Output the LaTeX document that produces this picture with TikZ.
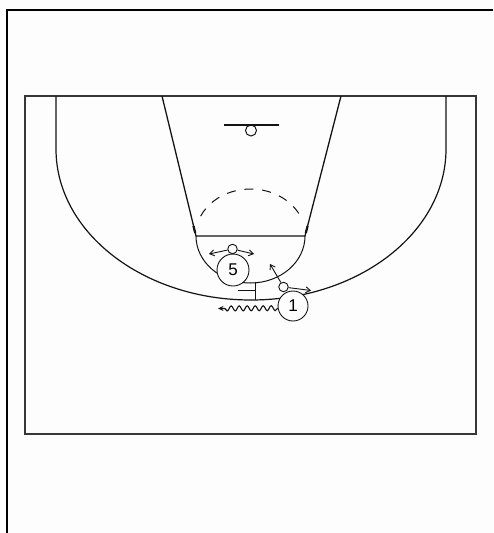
\documentclass[tikz,border=0pt]{standalone}
\usepackage{fontspec}
\setmainfont{Liberation Sans}
\usetikzlibrary{arrows.meta,decorations.pathmorphing}
\definecolor{chalk}{RGB}{253,253,253}
\definecolor{ink}{RGB}{20,20,20}
\tikzset{
  >={Straight Barb[length=4.5pt,width=6pt]},
  frame/.style={draw=black,line width=1.8pt},
  court/.style={draw=ink!85,line width=1.5pt},
  mark/.style={draw=ink,line width=#1},
  mark/.default=1pt,
  player/.style={circle,draw=ink,fill=chalk,line width=0.9pt,minimum size=#1,
    inner sep=0pt,font=\fontsize{17}{17}\selectfont},
  player/.default=31pt,
  defender/.style={circle,draw=ink,fill=chalk,line width=0.9pt,minimum size=9.5pt,inner sep=0pt},
  move/.style={->,draw=ink,line width=0.9pt},
  dribble/.style={-{Stealth[length=5.5pt,width=5pt]},draw=ink,line width=1.1pt,
    decorate,decoration={snake,segment length=8pt,amplitude=2.5pt,post length=5pt}},
}

\begin{document}
\begin{tikzpicture}[x=1pt,y=-1pt]
    \useasboundingbox (0,0) rectangle (493,533);
    \fill[chalk] (0,0) rectangle (493,533);
    \draw[frame] (7,533) -- (7,10) -- (493,10);
    \draw[court] (25,96) rectangle (476,434);
    % three point line
    \draw[mark=1.2pt] (56,96) -- (56,149) arc[start angle=180,end angle=0,x radius=195,y radius=151] -- (446,96);
    % lane and free throw circle
    \draw[mark=1.3pt] (162,96) -- (196,236) -- (305,236) -- (341,96);
    \draw[mark] (196,236) arc[start angle=180,end angle=0,x radius=54.5,y radius=47];
    \draw[mark,dash pattern=on 9pt off 8.8pt] (200.65,216.14) arc[start angle=205,end angle=335,x radius=55,y radius=47];
    \draw[mark=2.2pt] (193.5,226) -- (195.2,233);
    \draw[mark=2.2pt] (307.6,226) -- (305.8,233);
    % basket
    \draw[mark=1.2pt] (224,125) -- (279,125);
    \draw[mark] (251,130.5) circle (5.5);
    % screen
    \coordinate (scr) at (255,290.5);
    \draw[mark] (238,290.5) -- (scr);
    \draw[mark] (scr) ++(0,-9) -- ++(0,18.5);
    % players
    \node[player=32pt] (p5) at (233,270) {5};
    \node[player=30pt] (p1) at (293,306) {1};
    \node[defender] (x5) at (232.5,249) {};
    \node[defender] (x1) at (283.5,287) {};
    \coordinate (x5l) at (209,254);
    \coordinate (x5r) at (254,254);
    \coordinate (x1u) at (270,264);
    \coordinate (x1r) at (311,290.5);
    \coordinate (dr) at (218,308.5);
    \draw[move] (x5) -- (x5l);
    \draw[move] (x5) -- (x5r);
    \draw[move] (x1) -- (x1u);
    \draw[move] (x1) -- (x1r);
    \draw[dribble] (p1.188) -- (dr);
  \end{tikzpicture}
\end{document}
